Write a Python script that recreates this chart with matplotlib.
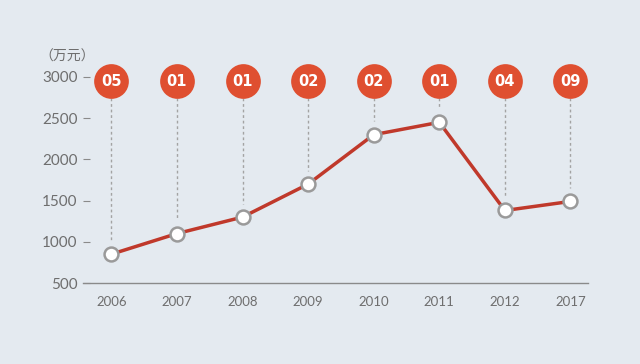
import matplotlib.pyplot as plt

plt.rcParams['font.family'] = ['Lato', 'Noto Sans CJK SC', 'DejaVu Sans']

years = ['2006', '2007', '2008', '2009', '2010', '2011', '2012', '2017']
values = [850, 1100, 1300, 1700, 2300, 2450, 1380, 1490]
badges = ['05', '01', '01', '02', '02', '01', '04', '09']
yticks = [500, 1000, 1500, 2000, 2500, 3000]

bg = '#e4eaf0'
red_line = '#c0392b'
red_badge = '#df4f30'
grey = '#6e6e6e'

fig = plt.figure(figsize=(6.4, 3.64), dpi=100, facecolor=bg)
ax = fig.add_axes([0.13, 0.2225, 0.789, 0.566], facecolor=bg)

x = list(range(len(years)))
badge_y = 2950

# dashed guides from badge down to each point
for xi, v in zip(x, values):
    ax.plot([xi, xi], [badge_y - 200, v + 160], ls=(0, (2, 2)), color='#a3a3a3',
            lw=1, zorder=1, clip_on=False)

ax.plot(x, values, color=red_line, lw=2.5, zorder=2)
ax.plot(x, values, 'o', ms=10, mfc='white', mec='#9a9a9a', mew=1.8, zorder=3)

for xi, b in zip(x, badges):
    ax.plot(xi, badge_y, 'o', ms=25, color=red_badge, mec='none', zorder=4, clip_on=False)
    ax.text(xi, badge_y, b, color='white', fontsize=10.5, fontweight='bold',
            ha='center', va='center', zorder=5,
            family=['DejaVu Sans Condensed', 'DejaVu Sans'])

ax.set_xlim(-0.43, 7.27)
ax.set_ylim(500, 3000)
ax.set_xticks(x)
ax.set_xticklabels(years)
ax.set_yticks(yticks)

for s in ['top', 'right', 'left']:
    ax.spines[s].set_visible(False)
ax.spines['bottom'].set_color('#8a8a8a')
ax.spines['bottom'].set_linewidth(1)

ax.tick_params(axis='x', length=0, pad=9, labelsize=9.5, labelcolor=grey)
ax.tick_params(axis='y', direction='in', length=5, width=0.8, color='#8a8a8a',
               pad=4, labelsize=11, labelcolor=grey)

fig.text(0.062, 0.843, '（万元）', fontsize=10, color=grey, ha='left', va='center',
         family=['Noto Sans CJK SC', 'DejaVu Sans'])

fig.savefig('out.png', dpi=100, facecolor=bg)
